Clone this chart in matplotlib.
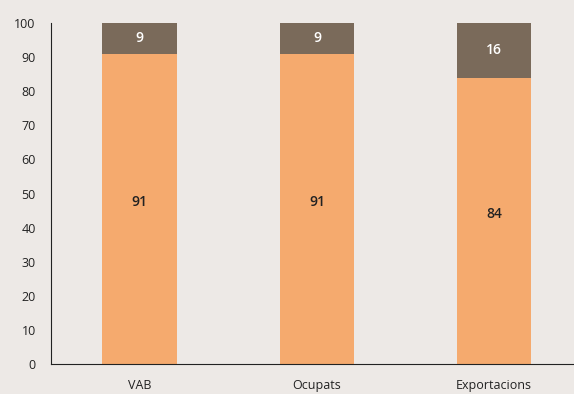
import numpy as np
import matplotlib.pyplot as plt

# dades
categories = ["VAB", "Ocupats", "Exportacions"]
part_a = [91, 91, 84]
part_b = [9, 9, 16]

bg = "#EDE9E6"
col_a = "#F5AA6E"
col_b = "#7A6A5A"

plt.rcParams['font.family'] = ['Open Sans', 'DejaVu Sans']

fig = plt.figure(figsize=(5.74, 3.94), dpi=100, facecolor=bg)
ax = fig.add_axes([0.0889, 0.0761, 0.9111, 0.8655], facecolor=bg)

x = np.arange(len(categories))
w = 0.42
ax.bar(x, part_a, width=w, color=col_a)
ax.bar(x, part_b, width=w, bottom=part_a, color=col_b)

for xi, a, b in zip(x, part_a, part_b):
    ax.text(xi, a / 2 + 2, str(a), ha="center", va="center", fontsize=10,
            color="#222222", fontweight="semibold")
    ax.text(xi, a + b / 2, str(b), ha="center", va="center", fontsize=10,
            color="white", fontweight="semibold")

ax.set_xlim(-0.5, 2.45)
ax.set_ylim(0, 100)
ax.set_yticks(range(0, 101, 10))
ax.set_xticks(x)
ax.set_xticklabels(categories)
ax.tick_params(axis="both", length=0, labelsize=9, colors="#222222")
ax.tick_params(axis="y", pad=11)
ax.tick_params(axis="x", pad=11)
for s in ["top", "right"]:
    ax.spines[s].set_visible(False)
ax.spines["left"].set_color("#222222")
ax.spines["bottom"].set_color("#222222")

fig.savefig("out.png", dpi=100, facecolor=bg)
